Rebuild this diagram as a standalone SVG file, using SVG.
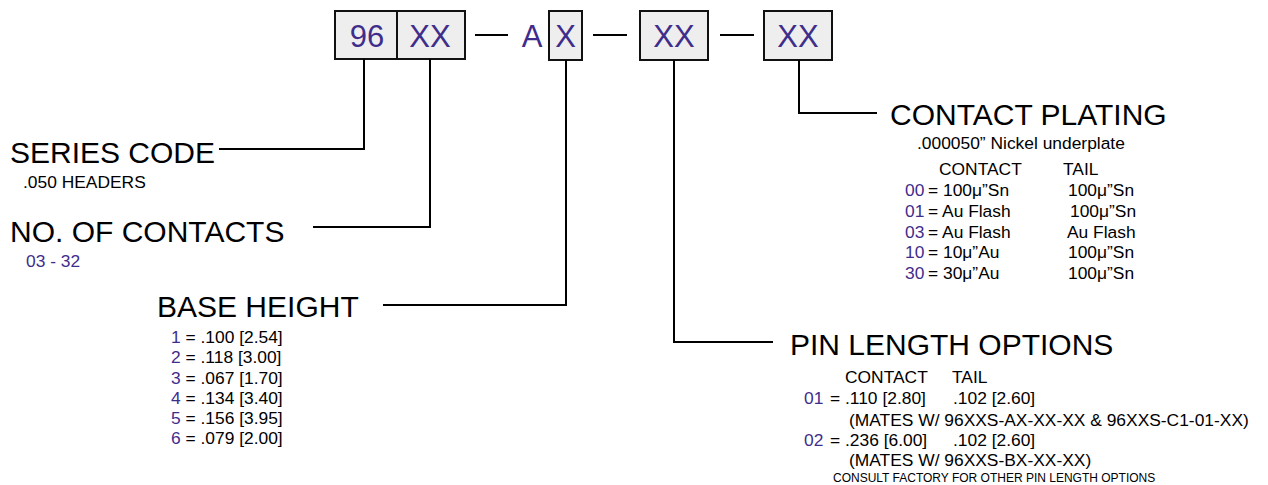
<svg xmlns="http://www.w3.org/2000/svg" width="1268" height="485" viewBox="0 0 1268 485">
<style>
text{font-family:"Liberation Sans",Arial,sans-serif;fill:#000}
.box{fill:#eeeeee;stroke:#111;stroke-width:2}
.bt{font-size:31px;fill:#3f2d8c;text-anchor:middle}
.p{fill:#3f2d8c}
.h{font-size:30px}
.s{font-size:17.4px}
.xs{font-size:12px}
.ln{fill:none;stroke:#000;stroke-width:2}
</style>
<rect width="1268" height="485" fill="#fff"/>
<g id="part-number">
  <g id="box-96"><rect class="box" x="335" y="11" width="62" height="48"/><text class="bt" x="367" y="47">96</text></g>
  <g id="box-contacts"><rect class="box" x="397" y="11" width="68" height="48"/><text class="bt" x="430" y="47">XX</text></g>
  <text class="bt" x="532" y="47">A</text>
  <g id="box-base"><rect class="box" x="549" y="11" width="33" height="49"/><text class="bt" x="565.5" y="47">X</text></g>
  <g id="box-pin"><rect class="box" x="640" y="11" width="68" height="49"/><text class="bt" x="674" y="47">XX</text></g>
  <g id="box-plating"><rect class="box" x="764" y="11" width="68" height="49"/><text class="bt" x="798" y="47">XX</text></g>
  <g id="dashes">
    <line class="ln" x1="475" y1="35" x2="508" y2="35"/>
    <line class="ln" x1="593" y1="35" x2="627" y2="35"/>
    <line class="ln" x1="720" y1="35" x2="754" y2="35"/>
  </g>
</g>
<g id="connectors">
  <polyline class="ln" points="364,59 364,149 219,149"/>
  <polyline class="ln" points="430,59 430,227 313,227"/>
  <polyline class="ln" points="566,60 566,305 383,305"/>
  <polyline class="ln" points="674,60 674,342 773,342"/>
  <polyline class="ln" points="799,60 799,113 877,113"/>
</g>
<g id="series-code">
  <text class="h" x="10" y="163">SERIES CODE</text>
  <text class="s" x="23" y="188">.050 HEADERS</text>
</g>
<g id="no-of-contacts">
  <text class="h" x="10" y="242">NO. OF CONTACTS</text>
  <text class="s p" x="26" y="267">03 - 32</text>
</g>
<g id="base-height">
  <text class="h" x="157" y="317">BASE HEIGHT</text>
  <text class="s" x="171" y="343"><tspan class="p">1</tspan> = .100 [2.54]</text>
  <text class="s" x="171" y="363"><tspan class="p">2</tspan> = .118 [3.00]</text>
  <text class="s" x="171" y="383.5"><tspan class="p">3</tspan> = .067 [1.70]</text>
  <text class="s" x="171" y="404"><tspan class="p">4</tspan> = .134 [3.40]</text>
  <text class="s" x="171" y="424"><tspan class="p">5</tspan> = .156 [3.95]</text>
  <text class="s" x="171" y="444"><tspan class="p">6</tspan> = .079 [2.00]</text>
</g>
<g id="contact-plating">
  <text class="h" x="890" y="125">CONTACT PLATING</text>
  <text class="s" x="917" y="149">.000050” Nickel underplate</text>
  <text class="s" x="939" y="175">CONTACT</text>
  <text class="s" x="1063" y="175">TAIL</text>
  <text class="s p" x="905" y="196">00</text><text class="s" x="928" y="196">= 100μ”Sn</text><text class="s" x="1068" y="196">100μ”Sn</text>
  <text class="s p" x="905" y="217">01</text><text class="s" x="928" y="217">= Au Flash</text><text class="s" x="1070" y="217">100μ”Sn</text>
  <text class="s p" x="905" y="238">03</text><text class="s" x="928" y="238">= Au Flash</text><text class="s" x="1067" y="238">Au Flash</text>
  <text class="s p" x="905" y="258">10</text><text class="s" x="928" y="258">= 10μ”Au</text><text class="s" x="1068" y="258">100μ”Sn</text>
  <text class="s p" x="905" y="279">30</text><text class="s" x="928" y="279">= 30μ”Au</text><text class="s" x="1068" y="279">100μ”Sn</text>
</g>
<g id="pin-length">
  <text class="h" x="790" y="355">PIN LENGTH OPTIONS</text>
  <text class="s" x="845" y="383">CONTACT</text>
  <text class="s" x="952" y="383">TAIL</text>
  <text class="s p" x="804" y="404">01</text><text class="s" x="830" y="404">= .110 [2.80]</text><text class="s" x="953" y="404">.102 [2.60]</text>
  <text class="s" x="849" y="426">(MATES W/ 96XXS-AX-XX-XX &amp; 96XXS-C1-01-XX)</text>
  <text class="s p" x="804" y="446">02</text><text class="s" x="830" y="446">= .236 [6.00]</text><text class="s" x="953" y="446">.102 [2.60]</text>
  <text class="s" x="849" y="466">(MATES W/ 96XXS-BX-XX-XX)</text>
  <text class="xs" x="833" y="482">CONSULT FACTORY FOR OTHER PIN LENGTH OPTIONS</text>
</g>
</svg>
